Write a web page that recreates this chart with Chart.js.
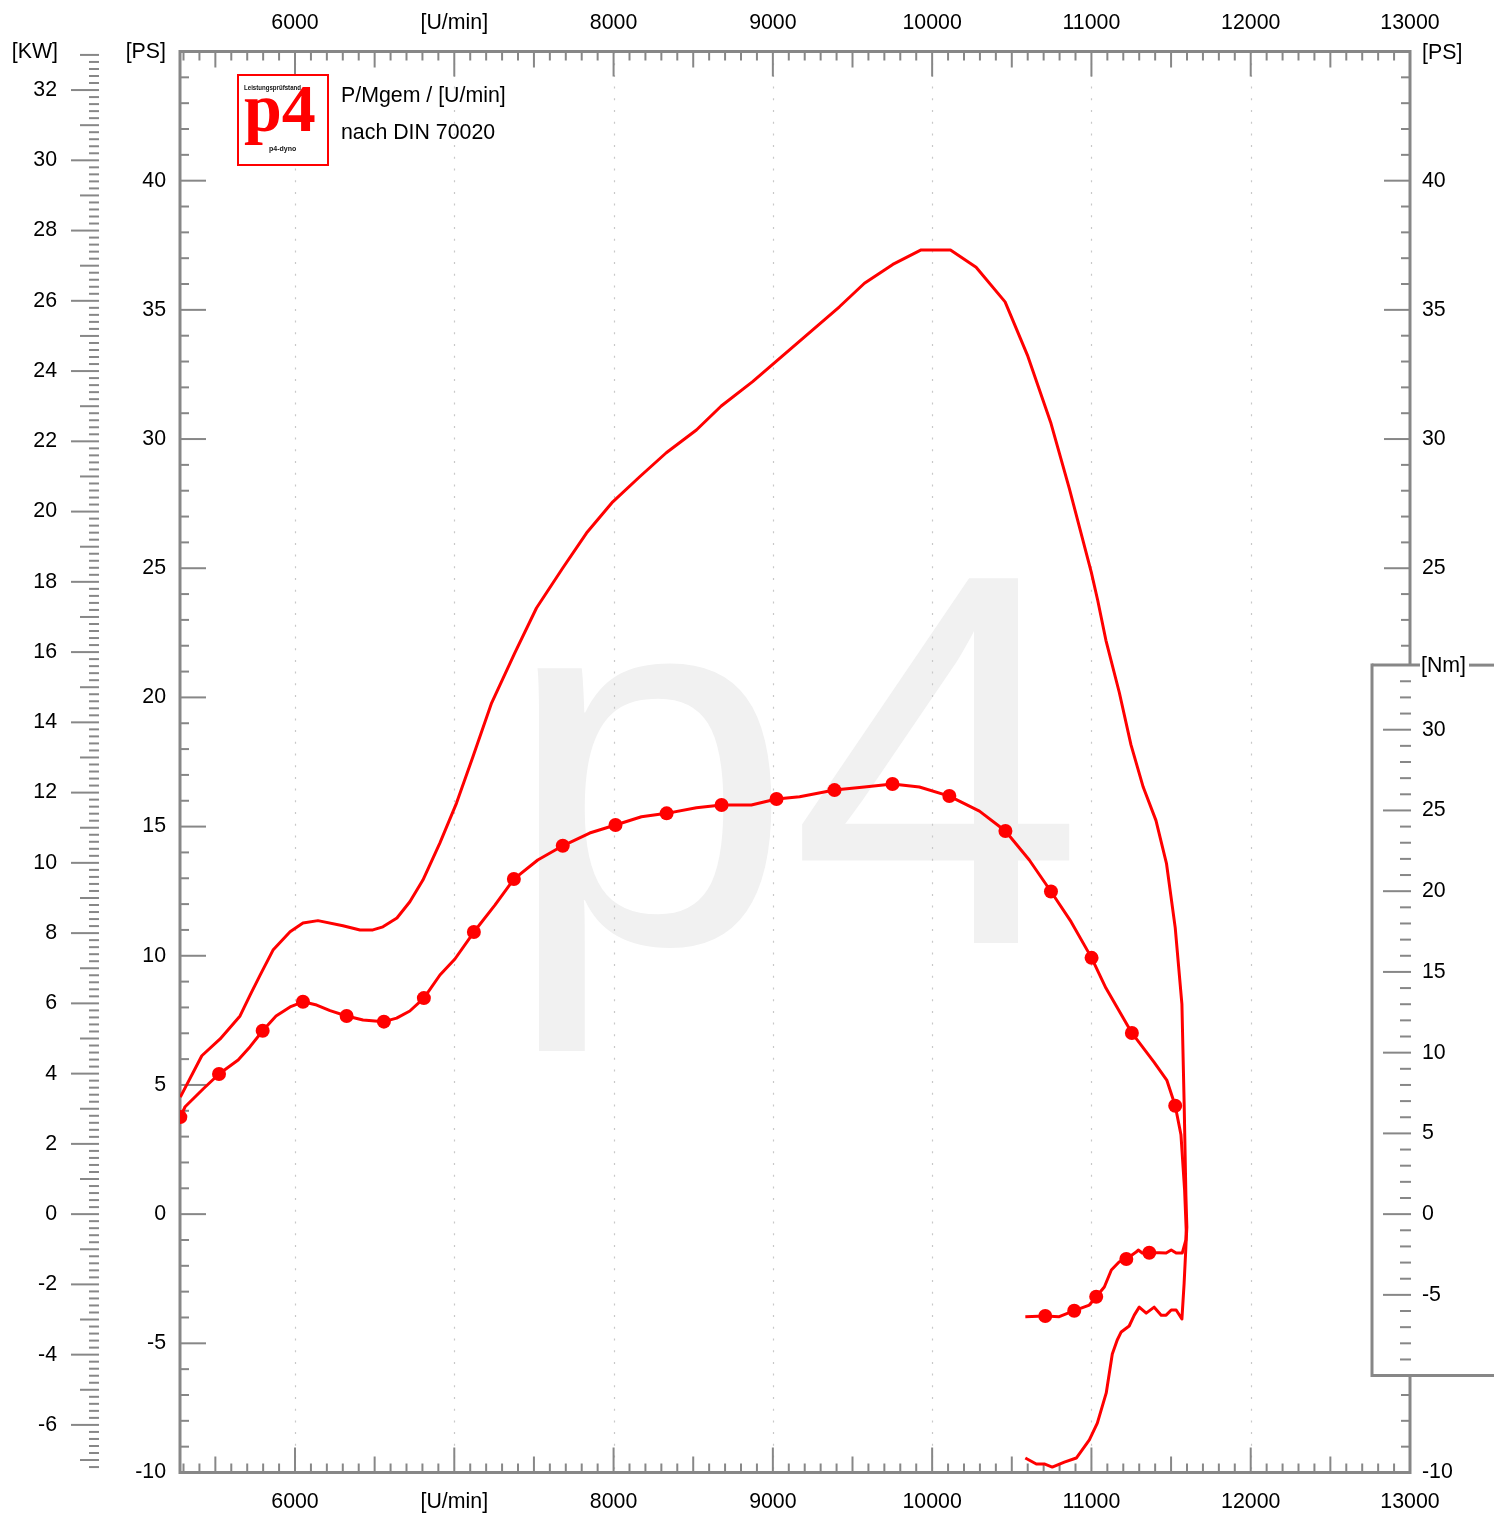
<!DOCTYPE html>
<html><head><meta charset="utf-8">
<script src="https://cdn.jsdelivr.net/npm/chart.js@4.4.1/dist/chart.umd.min.js"></script>
<style>html,body{margin:0;padding:0;background:#fff}canvas{display:block}</style>
</head><body>
<canvas id="c" width="1494" height="1517"></canvas>
<script>
// ---- tick labels ----
const rpmTicks = [6000, 7000, 8000, 9000, 10000, 11000, 12000, 13000];
const rpmTickLabels = ['6000', '[U/min]', '8000', '9000', '10000', '11000', '12000', '13000'];
const psTicks = [-10, -5, 0, 5, 10, 15, 20, 25, 30, 35, 40];
const psRightTicks = [-10, 25, 30, 35, 40];
const kwTicks = [-6, -4, -2, 0, 2, 4, 6, 8, 10, 12, 14, 16, 18, 20, 22, 24, 26, 28, 30, 32];
const nmTicks = [-5, 0, 5, 10, 15, 20, 25, 30];

// ---- power curve (PS), run + loss ----
const powerRpm = [5280, 5415, 5530, 5655, 5718, 5781, 5862, 5969, 6050, 6144, 6301, 6408, 6489, 6552, 6640, 6721, 6803, 6910, 7014, 7117, 7234, 7380, 7516, 7681, 7830, 7995, 8164, 8331, 8520, 8676, 8873, 9418, 9575, 9753, 9931, 10115, 10276, 10458, 10598, 10746, 10861, 10999, 11039, 11091, 11175, 11248, 11325, 11405, 11471, 11526, 11568, 11582, 11593, 11599, 11593, 11582, 11568, 11532, 11501, 11469, 11438, 11394, 11344, 11300, 11269, 11237, 11187, 11162, 11131, 11093, 11037, 10987, 10905, 10830, 10754, 10704, 10654, 10585];
const powerPS = [4.53, 6.13, 6.78, 7.67, 8.48, 9.25, 10.22, 10.93, 11.27, 11.36, 11.16, 11.0, 11.0, 11.12, 11.46, 12.09, 12.93, 14.37, 15.91, 17.70, 19.78, 21.72, 23.46, 25.01, 26.36, 27.57, 28.54, 29.47, 30.35, 31.28, 32.22, 35.12, 36.03, 36.76, 37.32, 37.32, 36.65, 35.31, 33.25, 30.61, 28.09, 24.85, 23.77, 22.21, 20.19, 18.17, 16.53, 15.24, 13.58, 11.09, 8.13, 4.32, 0.74, -0.50, -1.27, -2.67, -4.06, -3.71, -3.71, -3.91, -3.91, -3.60, -3.83, -3.60, -3.91, -4.33, -4.56, -4.87, -5.41, -6.92, -8.09, -8.74, -9.44, -9.60, -9.79, -9.67, -9.67, -9.44];

// ---- torque curve (Nm), run + loss ----
const torqueRpm = [5280, 5310, 5423, 5523, 5643, 5718, 5797, 5881, 5969, 6050, 6136, 6220, 6324, 6427, 6558, 6638, 6721, 6809, 6910, 7004, 7123, 7255, 7374, 7524, 7681, 7850, 8012, 8175, 8333, 8520, 8678, 8865, 9023, 9168, 9387, 9575, 9751, 9920, 10108, 10297, 10460, 10610, 10746, 10872, 11001, 11091, 11254, 11394, 11474, 11526, 11562, 11585, 11595, 11593, 11570, 11532, 11501, 11469, 11426, 11363, 11319, 11294, 11281, 11219, 11175, 11125, 11081, 11030, 10987, 10892, 10798, 10710, 10585];
const torqueNm = [6.01, 6.65, 7.75, 8.68, 9.54, 10.37, 11.36, 12.27, 12.83, 13.15, 12.95, 12.60, 12.27, 12.02, 11.92, 12.14, 12.58, 13.38, 14.81, 15.80, 17.47, 19.14, 20.75, 21.93, 22.81, 23.60, 24.10, 24.61, 24.82, 25.17, 25.34, 25.34, 25.71, 25.85, 26.26, 26.45, 26.64, 26.45, 25.89, 24.96, 23.73, 21.93, 19.98, 18.11, 15.87, 14.00, 11.22, 9.40, 8.28, 6.71, 4.92, 1.49, -0.98, -1.60, -2.41, -2.41, -2.22, -2.41, -2.39, -2.39, -2.41, -2.22, -2.35, -2.78, -2.95, -3.46, -4.51, -5.12, -5.63, -5.98, -6.35, -6.31, -6.35];

// ---- torque markers ----
const markerRpm = [5280, 5523, 5797, 6050, 6324, 6558, 6809, 7123, 7374, 7681, 8012, 8333, 8678, 9023, 9387, 9751, 10108, 10460, 10746, 11001, 11254, 11526, 11363, 11219, 11030, 10892, 10710];
const markerNm = [6.01, 8.68, 11.36, 13.15, 12.27, 11.92, 13.38, 17.47, 20.75, 22.81, 24.10, 24.82, 25.34, 25.71, 26.26, 26.64, 25.89, 23.73, 19.98, 15.87, 11.22, 6.71, -2.39, -2.78, -5.12, -5.98, -6.31];

const KW_PER_PS = 0.73549875;
const NM_PER_PS_AXIS = 1.6;
const AX = '#878787';
const FONT = '"Liberation Sans", Arial, Helvetica, sans-serif';
const FS = 21.33;
Chart.defaults.font.family = FONT;
Chart.defaults.font.size = FS;
Chart.defaults.color = '#000';

const decor = {
  id: 'decor',
  afterLayout(chart) {
    // let the zero-width Nm axis draw its labels to the right of the plot
    const s = chart.scales.nm;
    s.right = chart.width; s.width = s.right - s.left;
  },
  beforeDraw(chart) {
    const ctx = chart.ctx, ca = chart.chartArea;
    const sx = chart.scales.x, sps = chart.scales.ps, skw = chart.scales.kw, snm = chart.scales.nm;
    const L = ca.left, R = ca.right, T = ca.top, B = ca.bottom;
    const seg = (x1, y1, x2, y2) => { ctx.beginPath(); ctx.moveTo(x1, y1); ctx.lineTo(x2, y2); ctx.stroke(); };
    ctx.save();
    ctx.fillStyle = '#fff'; ctx.fillRect(0, 0, chart.width, chart.height);
    // watermark
    ctx.fillStyle = '#f1f1f1';
    ctx.textAlign = 'left'; ctx.textBaseline = 'alphabetic';
    ctx.font = '520px ' + FONT;
    ctx.fillText('p', 504, 943);
    ctx.font = '530px ' + FONT;
    ctx.fillText('4', 790, 943);
    // dotted vertical grid
    ctx.strokeStyle = '#c8c8c8'; ctx.lineWidth = 1.2; ctx.setLineDash([2, 9.7]);
    rpmTicks.forEach(v => { if (v >= sx.max) return; const x = Math.round(sx.getPixelForValue(v)) + 0.5; seg(x, T, x, B); });
    ctx.setLineDash([]);
    ctx.strokeStyle = AX; ctx.lineCap = 'butt';
    ctx.lineWidth = 2;
    for (let i = 53; i <= 129; i++) {
      const r = i * 100, x = sx.getPixelForValue(r);
      const len = r % 1000 === 0 ? 25 : (r % 500 === 0 ? 16 : 9);
      seg(x, T, x, T + len); seg(x, B, x, B - len);
    }
    for (let p = -9; p <= 44; p++) {
      const y = sps.getPixelForValue(p), len = p % 5 === 0 ? 26 : 9;
      seg(L, y, L + len, y); seg(R, y, R - len, y);
    }
    const kwRuler = 99;
    for (let i = -36; i <= 165; i++) {
      const y = skw.getPixelForValue(i / 5);
      const len = i % 10 === 0 ? 28 : (i % 5 === 0 ? 19 : 10);
      seg(kwRuler - len, y, kwRuler, y);
    }
    ctx.lineWidth = 3;
    ctx.strokeRect(L, T, R - L, B - T);
    // Nm box
    const bt = snm.getPixelForValue(34), bb = snm.getPixelForValue(-10), bl = 1372, br = chart.width;
    ctx.fillStyle = '#fff'; ctx.fillRect(bl, bt, br - bl, bb - bt);
    ctx.lineWidth = 3;
    seg(bl, bt - 1.5, bl, bb + 1.5); seg(bl, bb, br, bb); seg(bl, bt, 1420, bt); seg(1469, bt, br, bt);
    ctx.lineWidth = 2;
    for (let n = -9; n <= 33; n++) {
      const y = snm.getPixelForValue(n), len = n % 5 === 0 ? 28 : 11;
      seg(R + 1 - len, y, R + 1, y);
    }
    // texts
    ctx.fillStyle = '#000'; ctx.font = FS + 'px ' + FONT; ctx.textBaseline = 'middle';
    ctx.textAlign = 'right'; ctx.fillText('[KW]', 58, 52); ctx.fillText('[PS]', 166, 52);
    ctx.textAlign = 'left'; ctx.fillText('[PS]', 1422, 53); ctx.fillText('[Nm]', 1421, bt + 1);
    ctx.textBaseline = 'alphabetic';
    ctx.fillText('P/Mgem / [U/min]', 341, 102);
    ctx.fillText('nach DIN 70020', 341, 139);
    // logo
    ctx.fillStyle = '#fff'; ctx.fillRect(238, 75, 90, 90);
    ctx.strokeStyle = '#ff0000'; ctx.lineWidth = 2; ctx.strokeRect(238, 75, 90, 90);
    ctx.fillStyle = '#ff0000'; ctx.font = 'bold 68px "Liberation Serif", "Times New Roman", serif';
    ctx.fillText('p4', 244, 131);
    ctx.fillStyle = '#111'; ctx.font = 'bold 7px ' + FONT;
    ctx.fillText('Leistungsprüfstand', 244, 90, 57);
    ctx.fillText('p4-dyno', 269, 151, 49);
    ctx.restore();
  }
};

const hideGrid = { display: false, drawTicks: false };
const noBorder = { display: false };

new Chart(document.getElementById('c'), {
  type: 'scatter',
  data: {
    datasets: [
      { label: 'P [PS]', data: powerRpm.map((r, i) => ({ x: r, y: powerPS[i] })), xAxisID: 'x', yAxisID: 'ps',
        showLine: true, borderColor: '#ff0000', borderWidth: 3, pointRadius: 0, tension: 0, fill: false, borderJoinStyle: 'round' },
      { label: 'M [Nm]', data: torqueRpm.map((r, i) => ({ x: r, y: torqueNm[i] })), xAxisID: 'x', yAxisID: 'nm',
        showLine: true, borderColor: '#ff0000', borderWidth: 3, pointRadius: 0, tension: 0, fill: false, borderJoinStyle: 'round' },
      { label: 'M Messpunkte', data: markerRpm.map((r, i) => ({ x: r, y: markerNm[i] })), xAxisID: 'x', yAxisID: 'nm',
        showLine: false, pointRadius: 7, pointBackgroundColor: '#ff0000', pointBorderWidth: 0, borderColor: '#ff0000' }
    ]
  },
  options: {
    responsive: false, animation: false, devicePixelRatio: 1,
    layout: { padding: 0 },
    plugins: { legend: { display: false }, tooltip: { enabled: false } },
    scales: {
      x: { type: 'linear', position: 'bottom', min: 5278, max: 13000, bounds: 'data',
        afterBuildTicks: s => { s.ticks = rpmTicks.map(v => ({ value: v })); },
        afterFit: s => { s.height = 44.5; },
        grid: hideGrid, border: noBorder,
        ticks: { callback: (v, i) => rpmTickLabels[i], padding: 16.5, maxRotation: 0, autoSkip: false } },
      xTop: { type: 'linear', position: 'top', axis: 'x', min: 5278, max: 13000, bounds: 'data',
        afterBuildTicks: s => { s.ticks = rpmTicks.map(v => ({ value: v })); },
        afterFit: s => { s.height = 51.5; },
        grid: hideGrid, border: noBorder,
        ticks: { callback: (v, i) => rpmTickLabels[i], padding: 16, maxRotation: 0, autoSkip: false } },
      ps: { type: 'linear', position: 'left', axis: 'y', weight: 0, min: -10, max: 45, bounds: 'data',
        afterBuildTicks: s => { s.ticks = psTicks.map(v => ({ value: v })); },
        afterFit: s => { s.width = 122; },
        grid: hideGrid, border: noBorder,
        ticks: { callback: v => String(v), padding: 14, autoSkip: false } },
      kw: { type: 'linear', position: 'left', axis: 'y', weight: 1, min: -10 * KW_PER_PS, max: 45 * KW_PER_PS, bounds: 'data',
        afterBuildTicks: s => { s.ticks = kwTicks.map(v => ({ value: v })); },
        afterFit: s => { s.width = 58; },
        grid: hideGrid, border: noBorder,
        ticks: { callback: v => String(v), padding: 1, autoSkip: false } },
      nm: { type: 'linear', position: 'right', axis: 'y', weight: 0, min: -10 * NM_PER_PS_AXIS, max: 45 * NM_PER_PS_AXIS, bounds: 'data',
        afterBuildTicks: s => { s.ticks = nmTicks.map(v => ({ value: v })); },
        afterFit: s => { s.width = 0; },
        grid: hideGrid, border: noBorder,
        ticks: { callback: v => String(v), padding: 12, autoSkip: false } },
      psR: { type: 'linear', position: 'right', axis: 'y', weight: 1, min: -10, max: 45, bounds: 'data',
        afterBuildTicks: s => { s.ticks = psRightTicks.map(v => ({ value: v })); },
        afterFit: s => { s.width = 84; },
        grid: hideGrid, border: noBorder,
        ticks: { callback: v => String(v), padding: 12, autoSkip: false } }
    }
  },
  plugins: [decor]
});
</script>
</body></html>
